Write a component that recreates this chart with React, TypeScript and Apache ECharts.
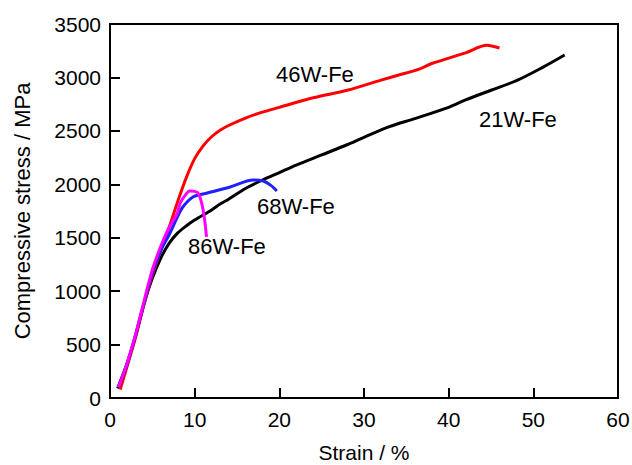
import React, { useEffect, useRef } from "react";
import * as echarts from "echarts";

const xTicks = [0, 10, 20, 30, 40, 50, 60];
const yTicks = [0, 500, 1000, 1500, 2000, 2500, 3000, 3500];

const w21Strain = [0.9, 2, 3, 4, 5, 6, 7, 8, 9, 10, 12, 13, 14, 16, 18, 20, 22, 25, 28, 30, 33, 36, 40, 42, 45, 48, 51, 53.7];
const w21Stress = [90, 320, 580, 880, 1120, 1310, 1450, 1545, 1610, 1665, 1760, 1815, 1860, 1960, 2040, 2110, 2180, 2275, 2370, 2440, 2540, 2615, 2720, 2790, 2880, 2970, 3090, 3210];

const w46Strain = [1.2, 2, 3, 4, 5, 6, 7, 8, 9, 10, 11, 12, 13, 14, 16, 18, 20, 24, 28, 32, 34, 36.6, 38, 42, 44.5, 45.3, 46];
const w46Stress = [80, 290, 560, 870, 1150, 1380, 1600, 1840, 2060, 2240, 2360, 2445, 2505, 2550, 2620, 2675, 2720, 2810, 2880, 2975, 3020, 3080, 3130, 3230, 3300, 3290, 3275];

const w68Strain = [1, 2, 3, 4, 5, 6, 7, 8, 8.6, 9.8, 11.5, 14.2, 16.9, 18.1, 19, 19.7];
const w68Stress = [100, 310, 580, 880, 1170, 1380, 1530, 1700, 1787, 1881, 1918, 1974, 2040, 2031, 1990, 1937];

const w86Strain = [1, 2, 3, 4, 5, 6, 7, 7.9, 8.3, 9, 9.4, 10.4, 11.0, 11.4];
const w86Stress = [100, 320, 590, 900, 1200, 1420, 1600, 1720, 1825, 1910, 1937, 1918, 1759, 1507];

const zip = (a: number[], b: number[]) => a.map((v, i) => [v, b[i]]);

const FONT = "'Liberation Sans', Arial, sans-serif";

export default function App() {
  const ref = useRef<HTMLDivElement>(null);
  useEffect(() => {
    if (!ref.current) return;
    const chart = echarts.init(ref.current, undefined, { renderer: "svg" });
    const line = (name: string, data: number[][], color: string) => ({
      name,
      type: "line",
      data,
      showSymbol: false,
      smooth: 0.3,
      lineStyle: { color, width: 3 },
      z: 3,
    });
    const textStyle = { fontFamily: FONT, fontSize: 22, fill: "#000" };
    chart.setOption({
      animation: false,
      backgroundColor: "#fff",
      grid: {
        left: 110,
        top: 24,
        right: 14,
        bottom: 67,
        outerBoundsMode: "none",
        containLabel: false,
        show: true,
        borderColor: "#000",
        borderWidth: 2,
        backgroundColor: "transparent",
      },
      xAxis: {
        type: "value",
        min: 0,
        max: 60,
        interval: 10,
        name: "Strain / %",
        nameLocation: "middle",
        nameGap: 44,
        nameTextStyle: { fontFamily: FONT, fontSize: 21, color: "#000", lineHeight: 21 },
        axisLine: { show: true, lineStyle: { color: "#000", width: 2 } },
        axisTick: { show: true, inside: true, length: 10, lineStyle: { color: "#000", width: 2 } },
        axisLabel: {
          fontFamily: FONT,
          fontSize: 21,
          color: "#000",
          margin: 11,
          formatter: (v: number) => (xTicks.includes(v) ? String(v) : ""),
        },
        splitLine: { show: false },
      },
      yAxis: {
        type: "value",
        min: 0,
        max: 3500,
        interval: 500,
        name: "Compressive stress / MPa",
        nameLocation: "middle",
        nameGap: 77,
        nameTextStyle: { fontFamily: FONT, fontSize: 22, color: "#000" },
        axisLine: { show: true, lineStyle: { color: "#000", width: 2 } },
        axisTick: { show: true, inside: true, length: 10, lineStyle: { color: "#000", width: 2 } },
        axisLabel: {
          fontFamily: FONT,
          fontSize: 21,
          color: "#000",
          margin: 9,
          formatter: (v: number) => (yTicks.includes(v) ? String(v) : ""),
        },
        splitLine: { show: false },
      },
      series: [
        line("21W-Fe", zip(w21Strain, w21Stress), "#000000"),
        line("46W-Fe", zip(w46Strain, w46Stress), "#ff0000"),
        line("68W-Fe", zip(w68Strain, w68Stress), "#1f1fff"),
        line("86W-Fe", zip(w86Strain, w86Stress), "#ff00ff"),
      ],
      graphic: [
        { type: "text", left: 276, top: 63, style: { ...textStyle, text: "46W-Fe" } },
        { type: "text", left: 479, top: 108, style: { ...textStyle, text: "21W-Fe" } },
        { type: "text", left: 257, top: 195, style: { ...textStyle, text: "68W-Fe" } },
        { type: "text", left: 188, top: 235, style: { ...textStyle, text: "86W-Fe" } },
      ],
    });
    return () => chart.dispose();
  }, []);
  return <div ref={ref} style={{ width: 632, height: 465, position: "absolute", left: 0, top: 0 }} />;
}
